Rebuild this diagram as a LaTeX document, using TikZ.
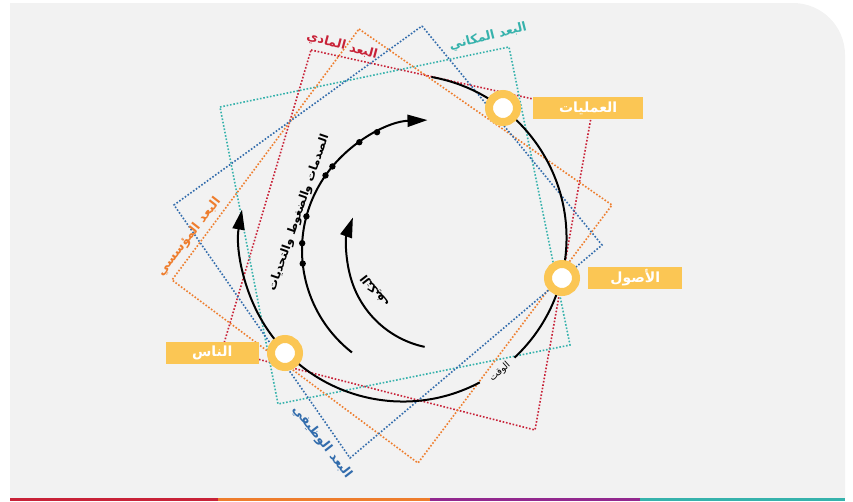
\documentclass[tikz,border=0pt]{standalone}
\usepackage{fontspec}
\newfontfamily\arabicfont[Script=Arabic]{DejaVu Sans}
\TeXXeTstate=1
\usepackage{tikz}
\usetikzlibrary{arrows.meta, positioning}
\definecolor{panelgray}{RGB}{242,242,242}
\definecolor{ringyellow}{RGB}{251,198,84}
\definecolor{dimred}{RGB}{200,34,56}
\definecolor{dimteal}{RGB}{54,178,172}
\definecolor{dimorange}{RGB}{238,125,45}
\definecolor{dimblue}{RGB}{50,108,172}
\definecolor{stripepurple}{RGB}{146,40,142}

\begin{document}
\begin{tikzpicture}[x=1pt, y=-1pt,
                    dim/.style={line width=1.6pt, dash pattern=on 1.6pt off 1.8pt},
                    ring/.style={circle, draw=ringyellow, line width=8pt, fill=white,
                            minimum size=28pt, inner sep=0pt},
                    tag/.style={fill=ringyellow, text=white, inner sep=0pt, minimum height=22pt,
                            font=\arabicfont\bfseries\fontsize{14}{16}\selectfont},
                    dimlbl/.style={inner sep=0pt, font=\arabicfont\bfseries\fontsize{12.5}{14}\selectfont},
                    cyc/.style={line width=2pt},
                    arr/.style={-{Triangle[length=20pt, width=12pt]}, line width=2pt}]
                \useasboundingbox (0,0) rectangle (853,501);
                \fill[panelgray] (10,499) -- (10,3) -- (793,3)
                    arc[start angle=90, end angle=0, radius=52pt] -- (845,499) -- cycle;
                \fill[dimred] (10,498) rectangle (218,501);
                \fill[dimorange] (218,498) rectangle (430,501);
                \fill[stripepurple] (430,498) rectangle (640,501);
                \fill[dimteal] (640,498) rectangle (845,501);

                \draw[dim, dimred] (311,50) -- (592,112) -- (535,430) -- (222,350) -- cycle;
                \draw[dim, dimteal] (220,107) -- (509,47) -- (570,345) -- (278,404) -- cycle;
                \draw[dim, dimorange] (359,29) -- (612,205) -- (418,463) -- (172,280) -- cycle;
                \draw[dim, dimblue] (422,26) -- (602,245) -- (350,458) -- (174,205) -- cycle;

                \coordinate (hub) at (403,238);
                \coordinate (core) at (432,250);
                \coordinate (adapt) at (445,251);
                \draw[cyc] ([shift={(80:163.5pt)}]hub) arc[start angle=80, end angle=-47, radius=163.5pt];
                \draw[arr] ([shift={(-62:163.5pt)}]hub) arc[start angle=-62, end angle=-190, radius=163.5pt];
                \draw[arr] ([shift={(232:130pt)}]core) arc[start angle=232, end angle=92, radius=130pt];
                \foreach \a in {186,177,165,145,140,124,115}
                    \fill ([shift={(\a:130pt)}]core) circle (3.2pt);
                \draw[arr] ([shift={(258:98pt)}]adapt) arc[start angle=258, end angle=160, radius=98pt];

                \node[ring] (ops) at (503,108) {};
                \node[ring] (assets) at (562,278) {};
                \node[ring] (people) at (285,353) {};
                \node[tag, minimum width=110pt, right=12pt of ops] (opsbox) {\beginR العمليات\endR};
                \node[tag, minimum width=94pt, right=8pt of assets] (assetsbox) {\beginR الأصول\endR};
                \node[tag, minimum width=93pt, left=8pt of people] (peoplebox) {\beginR الناس\endR};

                \node[dimlbl, text=dimred, rotate=-15] (physlbl) at (342,46) {\beginR البعد المادي\endR};
                \node[dimlbl, text=dimteal, rotate=14] (spacelbl) at (488,37) {\beginR البعد المكاني\endR};
                \node[dimlbl, text=dimorange, rotate=52] (instlbl) at (189,237) {\beginR البعد المؤسسي\endR};
                \node[dimlbl, text=dimblue, rotate=-52] (funclbl) at (322,442) {\beginR البعد الوظيفي\endR};
                \node[inner sep=0pt, font=\arabicfont\bfseries\fontsize{11.5}{13}\selectfont, rotate=71] (shocklbl)
                    at (299,213) {\beginR الصدمات والضغوط والتحديات\endR};
                \node[inner sep=0pt, font=\arabicfont\bfseries\fontsize{11.5}{13}\selectfont, rotate=128] (adaptlbl)
                    at (375,291) {\beginR التكيف\endR};
                \node[inner sep=0pt, font=\arabicfont\fontsize{9.5}{11}\selectfont, rotate=42] (timelbl)
                    at (500,372) {\beginR الوقت\endR};
            \end{tikzpicture}
\end{document}
